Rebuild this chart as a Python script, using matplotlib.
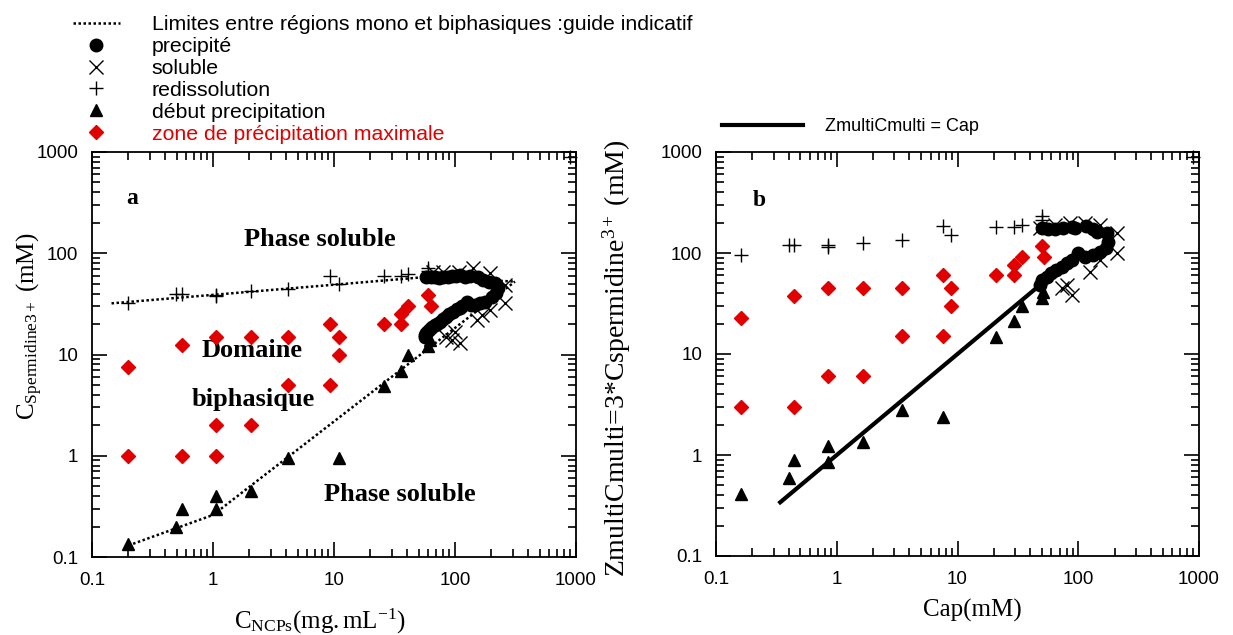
import matplotlib
matplotlib.use("Agg")
import matplotlib.pyplot as plt
from matplotlib.lines import Line2D
from matplotlib.ticker import LogLocator, FixedLocator, FixedFormatter, NullFormatter

plt.rcParams['mathtext.fontset'] = 'custom'
plt.rcParams['mathtext.rm'] = 'Liberation Serif'
plt.rcParams['mathtext.it'] = 'Liberation Serif:italic'
plt.rcParams['mathtext.bf'] = 'Liberation Serif:bold'

# ---------------- Panel a data ----------------
a_plus_x = [0.2, 0.49, 0.55, 1.05, 1.05, 2.05, 4.2, 9.3, 10.9, 26, 36, 41, 60, 60, 900]
a_plus_y = [32, 40, 40, 39, 38, 42, 44, 60, 50, 60, 60, 62.5, 72, 67, 900]

a_tri_x = [0.2, 0.49, 0.55, 1.05, 1.05, 2.05, 4.2, 10.9, 26, 36, 41, 60, 62]
a_tri_y = [0.135, 0.2, 0.3, 0.3, 0.4, 0.45, 0.95, 0.95, 4.9, 6.9, 9.9, 12, 14]

a_dia_x = [0.2, 0.2, 0.55, 0.55, 1.05, 1.05, 1.05, 2.05, 2.05, 4.2, 4.2, 9.3, 9.3,
           10.9, 10.9, 26, 36, 36, 41, 60, 63]
a_dia_y = [7.5, 1, 12.5, 1, 15, 2, 1, 15, 2, 15, 5, 20, 5, 15, 10, 20, 20, 25, 30, 39, 30]

a_circ_x = [58, 63, 68, 74, 80, 87, 94, 102, 110, 120, 133, 156, 171, 190, 214, 225, 218,
            201, 177, 160, 146, 135, 125, 115, 110, 104, 97, 90, 85, 80, 75, 71, 68,
            65, 62, 60, 58, 57, 56.5]
a_circ_y = [58.7, 58, 57.8, 57, 57.8, 58, 59.6, 60, 61, 58, 59.6, 58.7, 54.4, 52, 50.5, 45,
            40.8, 36.7, 33.3, 32, 30.8, 31, 33.3, 30, 28.6, 28, 26.5, 25, 23.6, 22.5, 21,
            20, 19.5, 18.5, 18, 17, 16.2, 15.5, 15]

a_sol_x = [66, 80, 107, 142, 195, 259, 259, 195, 166, 151, 110, 85, 100, 94]
a_sol_y = [66, 66, 66, 71, 63.5, 48.7, 32.6, 27.5, 24.6, 21.9, 12.9, 15, 16.8, 14]

a_upper_x = [0.145, 55, 313]
a_upper_y = [32, 58, 52.5]
a_lower_x = [0.2, 1.0, 313]
a_lower_y = [0.13, 0.26, 52.5]

# ---------------- Panel b data ----------------
b_plus_x = [0.16, 0.40, 0.44, 0.84, 0.84, 1.66, 3.45, 7.6, 8.85, 21, 29.5, 34, 50, 50, 900]
b_plus_y = [95, 119, 120, 119, 115, 126, 133, 183, 150, 181, 181, 189, 230, 210, 900]

b_tri_x = [0.16, 0.40, 0.44, 0.84, 0.84, 1.66, 3.45, 7.6, 21, 29.5, 34, 50, 51]
b_tri_y = [0.41, 0.59, 0.89, 0.86, 1.23, 1.36, 2.8, 2.4, 14.9, 21, 29.6, 35.8, 41]

b_dia_x = [0.16, 0.16, 0.44, 0.44, 0.84, 0.84, 1.66, 1.66, 3.45, 3.45, 7.6, 7.6, 8.85, 8.85,
           21, 29.5, 29.5, 34, 50, 52.5]
b_dia_y = [22.5, 3.0, 37.7, 3.0, 45, 6.0, 45, 6.0, 45, 15, 60, 15, 45, 30, 60, 60, 76.5, 91,
           118, 91]

b_circ_x = [49.8, 56.5, 64, 75, 88, 94, 117, 133, 142, 172, 177, 170, 151, 133, 114, 100,
            88, 80, 73, 66, 60, 55, 49.8, 48]
b_circ_y = [176, 171, 171, 176, 180, 176, 185, 171, 162, 157, 129, 111, 103, 95, 92, 99,
            85, 79, 73, 68, 63, 58, 54, 48]

b_sol_x = [48, 64, 85, 114, 151, 208, 208, 151, 125, 88, 80, 73]
b_sol_y = [176, 189, 197, 197, 189, 157, 99, 85, 65, 38, 48, 44.7]

b_line_x = [0.33, 50]
b_line_y = [0.33, 50]

# ---------------- Text ----------------
legend_a_labels = ["Limites entre régions mono et biphasiques :guide indicatif",
                   "precipité", "soluble", "redissolution", "début precipitation",
                   "zone de précipitation maximale"]
legend_b_label = "ZmultiCmulti = Cap"
tick_values = [0.1, 1, 10, 100, 1000]
tick_labels = ["0.1", "1", "10", "100", "1000"]

RED = '#e00000'
SANS = 'Liberation Sans'
SERIF = 'Liberation Serif'

fig = plt.figure(figsize=(12.33, 6.35), dpi=100)
ax_a = fig.add_axes([92/1233, 1-557/635, 484/1233, 405/635])
ax_b = fig.add_axes([716/1233, 1-556/635, 483/1233, 404/635])

ms_c, ms_t, ms_d, ms_x, ms_p = 9, 9, 7, 10, 10


def draw_points(ax, cx, cy, sx, sy, px, py, tx, ty, dx, dy):
    ax.plot(sx, sy, 'x', color='black', ms=ms_x, mew=1.0, ls='none', zorder=3)
    ax.plot(px, py, '+', color='black', ms=ms_p, mew=1.0, ls='none', zorder=3, clip_on=False)
    ax.plot(cx, cy, 'o', color='black', ms=ms_c, ls='none', zorder=4)
    ax.plot(tx, ty, '^', color='black', ms=ms_t, ls='none', zorder=4)
    ax.plot(dx, dy, 'D', color=RED, ms=ms_d, ls='none', zorder=4)


draw_points(ax_a, a_circ_x, a_circ_y, a_sol_x, a_sol_y, a_plus_x, a_plus_y,
            a_tri_x, a_tri_y, a_dia_x, a_dia_y)
ax_a.plot(a_upper_x, a_upper_y, color='black', ls=(0, (1, 1)), lw=1.8, zorder=2)
ax_a.plot(a_lower_x, a_lower_y, color='black', ls=(0, (1, 1)), lw=1.8, zorder=2)

draw_points(ax_b, b_circ_x, b_circ_y, b_sol_x, b_sol_y, b_plus_x, b_plus_y,
            b_tri_x, b_tri_y, b_dia_x, b_dia_y)
ax_b.plot(b_line_x, b_line_y, color='black', lw=3, solid_capstyle='butt', zorder=2)

for ax in (ax_a, ax_b):
    ax.set_xscale('log')
    ax.set_yscale('log')
    ax.set_xlim(0.1, 1000)
    ax.set_ylim(0.1, 1000)
    ax.xaxis.set_major_locator(FixedLocator(tick_values))
    ax.xaxis.set_major_formatter(FixedFormatter(tick_labels))
    ax.yaxis.set_major_locator(FixedLocator(tick_values))
    ax.yaxis.set_major_formatter(FixedFormatter(tick_labels))
    ax.xaxis.set_minor_locator(LogLocator(base=10, subs=range(2, 10)))
    ax.yaxis.set_minor_locator(LogLocator(base=10, subs=range(2, 10)))
    ax.xaxis.set_minor_formatter(NullFormatter())
    ax.yaxis.set_minor_formatter(NullFormatter())
    ax.tick_params(which='both', direction='in', top=True, right=True, width=1.2)
    ax.tick_params(which='major', length=11)
    ax.tick_params(which='minor', length=5.5)
    ax.tick_params(axis='y', which='major', pad=10, labelsize=13.5)
    ax.tick_params(axis='x', which='major', pad=11, labelsize=13.5)
    for lab in ax.get_xticklabels() + ax.get_yticklabels():
        lab.set_fontfamily(SANS)
    for sp in ax.spines.values():
        sp.set_linewidth(1.3)

# Panel a annotations
ax_a.text(0.082, 0.885, 'a', transform=ax_a.transAxes, fontfamily=SERIF,
          fontweight='bold', fontsize=17, ha='center', va='center')
ax_a.text(0.47, 0.785, 'Phase soluble', transform=ax_a.transAxes, fontfamily=SERIF,
          fontweight='bold', fontsize=19, ha='center', va='center')
ax_a.text(0.33, 0.51, 'Domaine', transform=ax_a.transAxes, fontfamily=SERIF,
          fontweight='bold', fontsize=19, ha='center', va='center')
ax_a.text(0.333, 0.39, 'biphasique', transform=ax_a.transAxes, fontfamily=SERIF,
          fontweight='bold', fontsize=19, ha='center', va='center')
ax_a.text(0.635, 0.155, 'Phase soluble', transform=ax_a.transAxes, fontfamily=SERIF,
          fontweight='bold', fontsize=19, ha='center', va='center')
ax_b.text(0.09, 0.88, 'b', transform=ax_b.transAxes, fontfamily=SERIF,
          fontweight='bold', fontsize=17, ha='center', va='center')

# Axis labels
ax_a.set_ylabel(r'$\mathregular{C_{Spermidine3+}}$ (mM)', fontfamily=SERIF, fontsize=18)
ax_a.yaxis.set_label_coords(-0.097, 0.57)
ax_a.set_xlabel(r'$\mathregular{C_{NCPs}(mg.mL^{-1})}$', fontfamily=SERIF, fontsize=18)
ax_a.xaxis.set_label_coords(0.47, -0.122)
ax_b.set_ylabel(r'ZmultiCmulti=3*Cspermidine$\mathregular{^{3+}}$ (mM)', fontfamily=SERIF,
                fontsize=20)
ax_b.yaxis.set_label_coords(-0.172, 0.49)
ax_b.set_xlabel('Cap(mM)', fontfamily=SERIF, fontsize=18)
ax_b.xaxis.set_label_coords(0.53, -0.105)

# Legends
handles_a = [
    Line2D([], [], color='black', ls=(0, (1, 1)), lw=1.8),
    Line2D([], [], marker='o', color='black', ls='none', ms=ms_c),
    Line2D([], [], marker='x', color='black', ls='none', ms=ms_x, mew=1.0),
    Line2D([], [], marker='+', color='black', ls='none', ms=ms_p, mew=1.0),
    Line2D([], [], marker='^', color='black', ls='none', ms=ms_t),
    Line2D([], [], marker='D', color=RED, ls='none', ms=ms_d),
]
leg_a = fig.legend(handles_a, legend_a_labels, loc='upper left',
                   bbox_to_anchor=(73/1233, 1-15/635), frameon=False,
                   prop={'family': SANS, 'size': 15.3}, handlelength=2.2,
                   handletextpad=1.5, labelspacing=0.14, borderpad=0, borderaxespad=0)
leg_a.get_texts()[-1].set_color(RED)

handles_b = [Line2D([], [], color='black', lw=3)]
fig.legend(handles_b, [legend_b_label], loc='upper left',
           bbox_to_anchor=(722/1233, 1-118/635), frameon=False,
           prop={'family': SANS, 'size': 13}, handlelength=4.5,
           handletextpad=1.2, borderpad=0, borderaxespad=0)

fig.savefig('out.png', dpi=100)
